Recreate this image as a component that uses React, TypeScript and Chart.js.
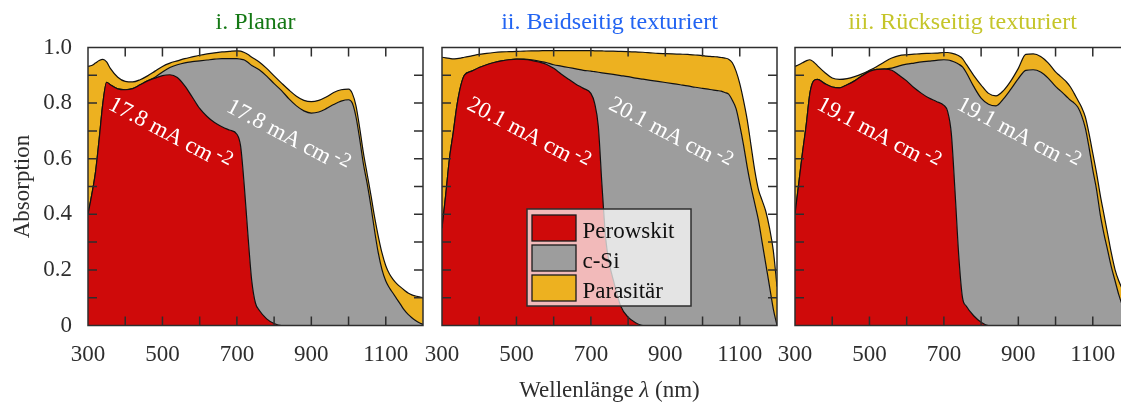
import React, { useEffect, useRef } from "react";
import { Chart, registerables } from "chart.js";

Chart.register(...registerables);

// ---------------- data ----------------
const wavelengths = [
  300, 310, 320, 330, 340, 350, 360, 380, 400, 420,
  440, 460, 480, 500, 520, 540, 560, 580, 600, 620,
  640, 660, 680, 700, 710, 720, 730, 740, 750, 760,
  780, 800, 820, 840, 860, 880, 900, 920, 940, 960,
  980, 1000, 1010, 1020, 1030, 1040, 1050, 1060, 1070, 1080,
  1090, 1100, 1110, 1120, 1130, 1140, 1150, 1160, 1170, 1180,
  1190, 1200,
];

// Panel i (planar): upper boundaries of the stacked areas
const perovPlanar = [
  0.40, 0.47, 0.55, 0.67, 0.80, 0.875, 0.866, 0.851, 0.848, 0.852,
  0.866, 0.880, 0.890, 0.899, 0.902, 0.892, 0.862, 0.822, 0.781, 0.752,
  0.730, 0.715, 0.703, 0.688, 0.645, 0.50, 0.32, 0.16, 0.08, 0.055,
  0.024, 0.007, 0, 0, 0, 0, 0, 0, 0, 0,
  0, 0, 0, 0, 0, 0, 0, 0, 0, 0,
  0, 0, 0, 0, 0, 0, 0, 0, 0, 0,
  0, 0,
];
const siPlanar = [
  0.40, 0.47, 0.55, 0.67, 0.80, 0.875, 0.866, 0.851, 0.848, 0.852,
  0.866, 0.880, 0.893, 0.912, 0.928, 0.938, 0.945, 0.949, 0.952, 0.955,
  0.958, 0.960, 0.960, 0.960, 0.958, 0.955, 0.946, 0.935, 0.928, 0.920,
  0.897, 0.870, 0.845, 0.815, 0.790, 0.772, 0.764, 0.768, 0.780, 0.795,
  0.807, 0.812, 0.800, 0.750, 0.670, 0.580, 0.510, 0.430, 0.340, 0.260,
  0.200, 0.160, 0.135, 0.115, 0.095, 0.075, 0.055, 0.040, 0.028, 0.018,
  0.010, 0.004,
];
const totalPlanar = [
  0.932, 0.935, 0.944, 0.953, 0.957, 0.948, 0.925, 0.893, 0.878, 0.876,
  0.884, 0.898, 0.915, 0.932, 0.944, 0.952, 0.960, 0.966, 0.972, 0.977,
  0.981, 0.984, 0.986, 0.988, 0.987, 0.982, 0.975, 0.965, 0.957, 0.948,
  0.925, 0.898, 0.872, 0.847, 0.825, 0.810, 0.805, 0.810, 0.822, 0.838,
  0.848, 0.850, 0.835, 0.790, 0.710, 0.620, 0.545, 0.470, 0.390, 0.320,
  0.260, 0.215, 0.185, 0.165, 0.150, 0.138, 0.127, 0.117, 0.110, 0.106,
  0.103, 0.100,
];

// Panel ii (textured on both sides)
const perovBoth = [
  0.35, 0.47, 0.60, 0.692, 0.79, 0.86, 0.90, 0.915, 0.928, 0.938,
  0.946, 0.952, 0.956, 0.958, 0.957, 0.954, 0.948, 0.940, 0.925, 0.905,
  0.886, 0.868, 0.853, 0.835, 0.800, 0.716, 0.500, 0.310, 0.220, 0.165,
  0.070, 0.030, 0.010, 0, 0, 0, 0, 0, 0, 0,
  0, 0, 0, 0, 0, 0, 0, 0, 0, 0,
  0, 0, 0, 0, 0, 0, 0, 0, 0, 0,
  0, 0,
];
const siBoth = [
  0.35, 0.47, 0.60, 0.692, 0.79, 0.86, 0.90, 0.915, 0.928, 0.938,
  0.946, 0.952, 0.956, 0.958, 0.958, 0.956, 0.951, 0.946, 0.938, 0.933,
  0.928, 0.923, 0.918, 0.915, 0.913, 0.911, 0.909, 0.907, 0.905, 0.903,
  0.899, 0.895, 0.890, 0.886, 0.882, 0.878, 0.874, 0.870, 0.866, 0.862,
  0.857, 0.853, 0.851, 0.849, 0.847, 0.845, 0.843, 0.838, 0.832, 0.810,
  0.780, 0.720, 0.650, 0.570, 0.500, 0.440, 0.380, 0.300, 0.220, 0.140,
  0.060, 0.0,
];
const totalBoth = [
  0.965, 0.963, 0.961, 0.959, 0.960, 0.962, 0.965, 0.970, 0.975, 0.979,
  0.982, 0.984, 0.985, 0.986, 0.987, 0.988, 0.988, 0.989, 0.989, 0.989,
  0.989, 0.989, 0.989, 0.989, 0.988, 0.988, 0.988, 0.987, 0.987, 0.987,
  0.986, 0.985, 0.984, 0.983, 0.981, 0.979, 0.978, 0.977, 0.976, 0.975,
  0.973, 0.971, 0.969, 0.968, 0.967, 0.966, 0.964, 0.962, 0.958, 0.945,
  0.915, 0.870, 0.810, 0.740, 0.650, 0.560, 0.490, 0.450, 0.410, 0.350,
  0.270, 0.140,
];

// Panel iii (textured on the rear side)
const perovRear = [
  0.40, 0.51, 0.62, 0.72, 0.835, 0.88, 0.885, 0.870, 0.858, 0.855,
  0.866, 0.880, 0.898, 0.914, 0.921, 0.922, 0.918, 0.900, 0.880, 0.855,
  0.835, 0.818, 0.806, 0.792, 0.770, 0.690, 0.480, 0.250, 0.100, 0.070,
  0.035, 0.012, 0, 0, 0, 0, 0, 0, 0, 0,
  0, 0, 0, 0, 0, 0, 0, 0, 0, 0,
  0, 0, 0, 0, 0, 0, 0, 0, 0, 0,
  0, 0,
];
const siRear = [
  0.40, 0.51, 0.62, 0.72, 0.835, 0.88, 0.885, 0.870, 0.858, 0.855,
  0.866, 0.880, 0.898, 0.914, 0.921, 0.923, 0.926, 0.934, 0.940, 0.944,
  0.948, 0.951, 0.954, 0.956, 0.955, 0.952, 0.947, 0.940, 0.930, 0.910,
  0.860, 0.818, 0.796, 0.790, 0.815, 0.850, 0.888, 0.918, 0.920, 0.912,
  0.890, 0.860, 0.848, 0.836, 0.823, 0.810, 0.800, 0.785, 0.755, 0.710,
  0.640, 0.560, 0.490, 0.400, 0.330, 0.270, 0.210, 0.160, 0.110, 0.070,
  0.035, 0.010,
];
const totalRear = [
  0.932, 0.938, 0.945, 0.952, 0.956, 0.948, 0.935, 0.910, 0.890, 0.885,
  0.888, 0.895, 0.905, 0.918, 0.932, 0.948, 0.962, 0.971, 0.974, 0.976,
  0.978, 0.979, 0.980, 0.982, 0.982, 0.980, 0.976, 0.970, 0.960, 0.940,
  0.900, 0.865, 0.835, 0.826, 0.845, 0.880, 0.925, 0.975, 0.977, 0.968,
  0.945, 0.912, 0.900, 0.888, 0.875, 0.858, 0.835, 0.810, 0.785, 0.750,
  0.690, 0.620, 0.550, 0.470, 0.400, 0.330, 0.260, 0.200, 0.160, 0.130,
  0.110, 0.100,
];

const panelTitles = ["i. Planar", "ii. Beidseitig texturiert", "iii. Rückseitig texturiert"];
const seriesNames = ["Perowskit", "c-Si", "Parasitär"];
const jscPerov = [17.8, 20.1, 19.1];
const jscSi = [17.8, 20.1, 19.1];
const xTickLabels = [300, 500, 700, 900, 1100];
const yTickLabels = ["0", "0.2", "0.4", "0.6", "0.8", "1.0"];

const perovSeries = [perovPlanar, perovBoth, perovRear];
const siSeries = [siPlanar, siBoth, siRear];
const totalSeries = [totalPlanar, totalBoth, totalRear];

// ---------------- style ----------------
const FONT = '"Liberation Serif", "Times New Roman", Times, serif';
const INK = "#2e2e2e";
const RED = "#cf0a0a";
const GRAY = "#9d9d9d";
const ORANGE = "#edb120";
const TITLE_COLORS = ["#147814", "#2264f2", "#c5c52a"];
const CANVAS_W = 435;
const CANVAS_H = 405;
const PANEL_LEFTS = [0, 354, 707];
const LABEL_ANCHORS = [
  { red: [519, 0.686], si: [836, 0.678] },
  { red: [531, 0.686], si: [912, 0.686] },
  { red: [523, 0.686], si: [899, 0.686] },
];
const LABEL_ANGLE = (28 * Math.PI) / 180;

function drawCurrent(ctx: CanvasRenderingContext2D, cx: number, cy: number, value: number) {
  const main = `${value.toFixed(1)} mA cm`;
  const sup = "-2";
  ctx.save();
  ctx.translate(cx, cy);
  ctx.rotate(LABEL_ANGLE);
  ctx.fillStyle = "#ffffff";
  ctx.textBaseline = "middle";
  ctx.textAlign = "left";
  ctx.font = `23px ${FONT}`;
  const wMain = ctx.measureText(main).width;
  const wSp = ctx.measureText(" ").width * 0.6;
  ctx.font = `20px ${FONT}`;
  const wSup = ctx.measureText(sup).width;
  const total = wMain + wSp + wSup;
  const x0 = -total / 2;
  ctx.font = `23px ${FONT}`;
  ctx.fillText(main, x0, 0);
  ctx.font = `20px ${FONT}`;
  ctx.fillText(sup, x0 + wMain + wSp, -6);
  ctx.restore();
}

function makeOverlay(idx: number) {
  return {
    id: "overlay" + idx,
    afterDatasetsDraw(chart: any) {
      const { ctx, scales } = chart;
      const xs = scales.x;
      const ys = scales.y;
      const anc = LABEL_ANCHORS[idx];
      ctx.save();
      const a = chart.chartArea;
      ctx.beginPath();
      ctx.rect(a.left, a.top, a.right - a.left, a.bottom - a.top);
      ctx.clip();
      drawCurrent(ctx, xs.getPixelForValue(anc.red[0]), ys.getPixelForValue(anc.red[1]), jscPerov[idx]);
      drawCurrent(ctx, xs.getPixelForValue(anc.si[0]), ys.getPixelForValue(anc.si[1]), jscSi[idx]);
      ctx.restore();
    },
    afterDraw(chart: any) {
      const { ctx, scales } = chart;
      const a = chart.chartArea;
      const xs = scales.x;
      const ys = scales.y;
      ctx.save();
      // frame
      ctx.strokeStyle = INK;
      ctx.lineWidth = 1.5;
      ctx.strokeRect(a.left, a.top, a.right - a.left, a.bottom - a.top);
      // inward ticks on all four sides
      const TL = 9;
      ctx.beginPath();
      for (const t of xs.ticks) {
        const px = xs.getPixelForValue(t.value);
        if (px <= a.left + 1 || px >= a.right - 1) continue;
        ctx.moveTo(px, a.bottom);
        ctx.lineTo(px, a.bottom - TL);
        ctx.moveTo(px, a.top);
        ctx.lineTo(px, a.top + TL);
      }
      for (const t of ys.ticks) {
        const py = ys.getPixelForValue(t.value);
        if (py <= a.top + 1 || py >= a.bottom - 1) continue;
        ctx.moveTo(a.left, py);
        ctx.lineTo(a.left + TL, py);
        ctx.moveTo(a.right, py);
        ctx.lineTo(a.right - TL, py);
      }
      ctx.stroke();

      // panel title
      ctx.fillStyle = TITLE_COLORS[idx];
      ctx.font = `24px ${FONT}`;
      ctx.textAlign = "center";
      ctx.textBaseline = "alphabetic";
      ctx.fillText(panelTitles[idx], (a.left + a.right) / 2, 29);

      // y axis title
      if (idx === 0) {
        ctx.save();
        ctx.translate(29, (a.top + a.bottom) / 2);
        ctx.rotate(-Math.PI / 2);
        ctx.fillStyle = INK;
        ctx.font = `23px ${FONT}`;
        ctx.textAlign = "center";
        ctx.fillText("Absorption", 0, 0);
        ctx.restore();
      }

      if (idx === 1) {
        // x axis title with italic lambda
        const parts: [string, boolean][] = [["Wellenlänge ", false], ["λ", true], [" (nm)", false]];
        let total = 0;
        const widths: number[] = [];
        for (const [s, it] of parts) {
          ctx.font = `${it ? "italic " : ""}23px ${FONT}`;
          const w = ctx.measureText(s).width;
          widths.push(w);
          total += w;
        }
        let x0 = (a.left + a.right) / 2 - total / 2;
        ctx.fillStyle = INK;
        ctx.textAlign = "left";
        parts.forEach(([s, it], i) => {
          ctx.font = `${it ? "italic " : ""}23px ${FONT}`;
          ctx.fillText(s, x0, 397);
          x0 += widths[i];
        });

        // legend
        const lx = a.left + 85;
        const ly = a.top + 161.5;
        const lw = 164;
        const lh = 97;
        ctx.fillStyle = "rgba(255,255,255,0.72)";
        ctx.fillRect(lx, ly, lw, lh);
        ctx.strokeStyle = INK;
        ctx.lineWidth = 1.5;
        ctx.strokeRect(lx, ly, lw, lh);
        const colors = [RED, GRAY, ORANGE];
        chart.data.datasets.forEach((ds: any, i: number) => {
          const ry = ly + 6 + i * 30;
          ctx.fillStyle = colors[i];
          ctx.fillRect(lx + 5, ry, 44, 26);
          ctx.strokeStyle = "#1a1a1a";
          ctx.lineWidth = 1.3;
          ctx.strokeRect(lx + 5, ry, 44, 26);
          ctx.fillStyle = "#111";
          ctx.font = `23px ${FONT}`;
          ctx.textAlign = "left";
          ctx.textBaseline = "alphabetic";
          ctx.fillText(ds.label, lx + 55.5, ry + 23.3);
        });
      }
      ctx.restore();
    },
  };
}

function PanelChart({ idx }: { idx: number }) {
  const ref = useRef<HTMLCanvasElement | null>(null);
  useEffect(() => {
    if (!ref.current) return;
    const toPts = (arr: number[]) => wavelengths.map((x, i) => ({ x, y: arr[i] }));
    const common = {
      borderColor: "#111",
      borderWidth: 1.2,
      pointRadius: 0,
      cubicInterpolationMode: "monotone" as const,
    };
    const chart = new Chart(ref.current, {
      type: "line",
      data: {
        datasets: [
          { label: seriesNames[0], data: toPts(perovSeries[idx]), fill: "origin", backgroundColor: RED, ...common },
          { label: seriesNames[1], data: toPts(siSeries[idx]), fill: "-1", backgroundColor: GRAY, ...common },
          { label: seriesNames[2], data: toPts(totalSeries[idx]), fill: "-1", backgroundColor: ORANGE, ...common },
        ],
      },
      options: {
        responsive: false,
        animation: false,
        devicePixelRatio: 1,
        layout: { padding: { left: 0, right: 12, top: 47.5, bottom: 0 } },
        plugins: {
          legend: { display: false },
          title: { display: false },
          tooltip: { enabled: false },
        },
        scales: {
          x: {
            type: "linear",
            min: 300,
            max: 1200,
            grid: { display: false, drawTicks: false },
            border: { display: false },
            ticks: {
              stepSize: 100,
              autoSkip: false,
              maxRotation: 0,
              padding: 16,
              color: INK,
              font: { family: FONT, size: 23 },
              callback: (v: any) => (xTickLabels.includes(Number(v)) ? String(v) : ""),
            },
            afterFit: (s: any) => {
              s.height = 79.5;
              s.paddingLeft = 0;
              s.paddingRight = 0;
            },
          },
          y: {
            min: 0,
            max: 1,
            grid: { display: false, drawTicks: false },
            border: { display: false },
            ticks: {
              display: idx === 0,
              stepSize: 0.1,
              autoSkip: false,
              padding: 16,
              color: INK,
              font: { family: FONT, size: 23 },
              callback: (v: any) => {
                const k = Math.round(Number(v) * 10);
                return k % 2 === 0 ? yTickLabels[k / 2] : "";
              },
            },
            afterFit: (s: any) => {
              s.width = 88;
              s.paddingTop = 0;
              s.paddingBottom = 0;
            },
          },
        },
      },
      plugins: [makeOverlay(idx)],
    } as any);
    return () => chart.destroy();
  }, [idx]);
  return (
    <canvas
      ref={ref}
      width={CANVAS_W}
      height={CANVAS_H}
      style={{ position: "absolute", left: PANEL_LEFTS[idx], top: 0, width: CANVAS_W, height: CANVAS_H }}
    />
  );
}

export default function App() {
  return (
    <div
      style={{
        position: "fixed",
        left: 0,
        top: 0,
        width: 1121,
        height: 405,
        overflow: "hidden",
        background: "#ffffff",
      }}
    >
      <PanelChart idx={0} />
      <PanelChart idx={1} />
      <PanelChart idx={2} />
    </div>
  );
}
